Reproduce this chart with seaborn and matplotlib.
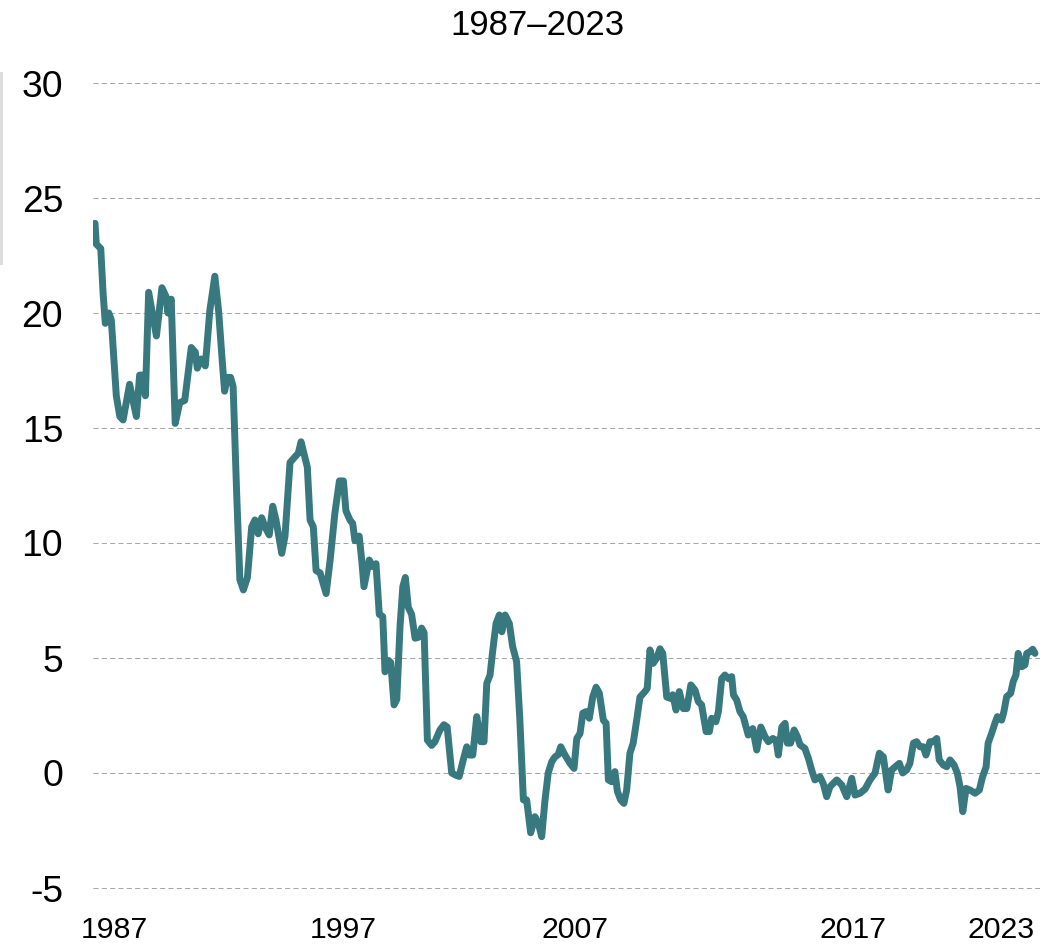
import matplotlib
matplotlib.use("Agg")
import matplotlib.pyplot as plt
from matplotlib.patches import Rectangle
import seaborn as sns
import pandas as pd

# ---- data ----
years = [
    1987.00, 1987.05, 1987.23, 1987.32, 1987.41, 1987.55, 1987.65, 1987.85, 1987.99, 1988.12,
    1988.38, 1988.65, 1988.78, 1988.91, 1989.01, 1989.14, 1989.45, 1989.67, 1989.84, 1989.91,
    1990.04, 1990.20, 1990.38, 1990.58, 1990.84, 1991.00, 1991.08, 1991.24, 1991.40, 1991.58,
    1991.78, 1991.93, 1992.07, 1992.17, 1992.28, 1992.41, 1992.51, 1992.65, 1992.78, 1992.92,
    1993.08, 1993.25, 1993.38, 1993.51, 1993.65, 1993.78, 1993.95, 1994.09, 1994.22, 1994.45,
    1994.58, 1994.78, 1994.98, 1995.11, 1995.22, 1995.31, 1995.47, 1995.58, 1995.71, 1995.82,
    1995.98, 1996.22, 1996.38, 1996.57, 1996.75, 1996.91, 1997.01, 1997.17, 1997.28, 1997.37,
    1997.54, 1997.64, 1997.73, 1997.94, 1998.08, 1998.21, 1998.34, 1998.48, 1998.57, 1998.70,
    1998.80, 1998.93, 1999.04, 1999.17, 1999.28, 1999.38, 1999.50, 1999.63, 1999.77, 1999.90,
    2000.03, 2000.13, 2000.26, 2000.43, 2000.56, 2000.76, 2000.92, 2001.05, 2001.23, 2001.40,
    2001.53, 2001.69, 2001.83, 2001.93, 2002.07, 2002.23, 2002.39, 2002.52, 2002.63, 2002.76,
    2002.87, 2003.00, 2003.13, 2003.23, 2003.36, 2003.53, 2003.66, 2003.82, 2003.95, 2004.09,
    2004.22, 2004.38, 2004.55, 2004.69, 2004.82, 2004.95, 2005.08, 2005.22, 2005.35, 2005.48,
    2005.58, 2005.75, 2005.95, 2006.11, 2006.22, 2006.35, 2006.46, 2006.59, 2006.72, 2006.86,
    2006.99, 2007.12, 2007.28, 2007.39, 2007.48, 2007.61, 2007.74, 2007.84, 2007.97, 2008.10,
    2008.21, 2008.34, 2008.47, 2008.61, 2008.74, 2008.94, 2009.03, 2009.14, 2009.27, 2009.41,
    2009.54, 2009.65, 2009.81, 2009.94, 2010.05, 2010.18, 2010.31, 2010.47, 2010.61, 2010.77,
    2010.94, 2011.07, 2011.20, 2011.38, 2011.51, 2011.60, 2011.77, 2011.87, 2012.00, 2012.13,
    2012.27, 2012.40, 2012.47, 2012.60, 2012.73, 2012.86, 2013.06, 2013.24, 2013.40, 2013.56,
    2013.73, 2013.86, 2014.04, 2014.17, 2014.26, 2014.40, 2014.53, 2014.62, 2014.75, 2014.89,
    2015.02, 2015.13, 2015.32, 2015.46, 2015.59, 2015.72, 2015.92, 2016.05, 2016.19, 2016.32,
    2016.59, 2016.79, 2016.99, 2017.19, 2017.32, 2017.52, 2017.72, 2017.92, 2018.12, 2018.29,
    2018.45, 2018.64, 2018.78, 2018.92, 2019.09, 2019.22, 2019.38, 2019.51, 2019.65, 2019.78,
    2019.91, 2020.04, 2020.15, 2020.31, 2020.44, 2020.58, 2020.68, 2020.84, 2020.98, 2021.11,
    2021.27, 2021.40, 2021.51, 2021.62, 2021.75, 2021.91, 2022.11, 2022.28, 2022.41, 2022.55,
    2022.63, 2022.77, 2022.90, 2023.00, 2023.17, 2023.26, 2023.37, 2023.53, 2023.63, 2023.74,
    2023.83, 2023.97, 2024.10, 2024.17, 2024.30, 2024.41, 2024.50,
]
values = [
    23.9, 23.0, 22.8, 20.9, 19.55, 20.0, 19.7, 16.4, 15.5, 15.35,
    16.9, 15.5, 17.3, 17.3, 16.4, 20.9, 19.0, 21.1, 20.7, 20.0,
    20.6, 15.2, 16.1, 16.2, 18.5, 18.3, 17.6, 18.0, 17.7, 20.1,
    21.6, 20.1, 18.0, 16.6, 17.2, 17.2, 16.8, 12.2, 8.4, 7.96,
    8.5, 10.7, 11.0, 10.4, 11.1, 10.7, 10.35, 11.6, 11.0, 9.55,
    10.3, 13.5, 13.75, 13.9, 14.4, 14.0, 13.3, 11.0, 10.7, 8.8,
    8.7, 7.8, 9.26, 11.3, 12.7, 12.7, 11.4, 11.0, 10.85, 10.1,
    10.3, 9.26, 8.1, 9.26, 8.97, 9.1, 6.9, 6.8, 4.4, 4.9,
    4.8, 2.96, 3.2, 6.4, 8.1, 8.5, 7.2, 6.9, 5.86, 5.9,
    6.3, 6.1, 1.43, 1.2, 1.36, 1.87, 2.1, 2.0, 0.0, -0.1,
    -0.15, 0.57, 1.14, 0.78, 0.78, 2.45, 1.36, 1.36, 3.9, 4.26,
    5.35, 6.5, 6.87, 6.14, 6.87, 6.5, 5.5, 4.84, 2.3, -1.17,
    -1.17, -2.6, -1.9, -2.2, -2.77, -1.2, 0.0, 0.49, 0.7, 0.8,
    1.14, 0.78, 0.42, 0.2, 1.5, 1.72, 2.6, 2.67, 2.38, 3.32,
    3.73, 3.47, 2.3, 2.16, -0.3, -0.38, 0.06, -0.8, -1.17, -1.32,
    -0.74, 0.86, 1.3, 2.3, 3.3, 3.54, 3.68, 5.35, 4.77, 5.0,
    5.4, 5.2, 3.3, 3.25, 3.4, 2.74, 3.54, 2.8, 2.8, 3.83,
    3.6, 3.1, 2.96, 1.8, 1.8, 2.38, 2.23, 2.67, 4.1, 4.26,
    4.1, 4.19, 3.4, 3.17, 2.67, 2.45, 1.65, 1.93, 1.0, 2.0,
    1.58, 1.36, 1.5, 1.43, 0.78, 2.0, 2.16, 1.3, 1.3, 1.87,
    1.58, 1.22, 1.07, 0.64, 0.13, -0.3, -0.16, -0.45, -1.03, -0.6,
    -0.3, -0.52, -1.03, -0.23, -0.96, -0.88, -0.7, -0.3, 0.0, 0.86,
    0.7, -0.74, 0.13, 0.27, 0.42, 0.0, 0.13, 0.42, 1.3, 1.36,
    1.14, 1.14, 0.78, 1.36, 1.36, 1.5, 0.57, 0.35, 0.27, 0.57,
    0.35, 0.0, -0.6, -1.68, -0.67, -0.74, -0.88, -0.74, -0.16, 0.27,
    1.3, 1.72, 2.16, 2.45, 2.3, 2.67, 3.32, 3.47, 3.97, 4.26,
    5.2, 4.62, 4.7, 5.2, 5.27, 5.38, 5.2,
]
y_ticks = [-5, 0, 5, 10, 15, 20, 25, 30]
y_tick_labels = ["-5", "0", "5", "10", "15", "20", "25", "30"]
x_tick_pos = [1987.76, 1996.89, 2006.15, 2017.24, 2023.14]
x_tick_labels = ["1987", "1997", "2007", "2017", "2023"]
title = "1987\u20132023"

# ---- styling ----
sns.set_theme(style="white")
plt.rcParams["font.family"] = ["Liberation Sans", "DejaVu Sans"]

LINE_COLOR = "#38787f"
GRID_COLOR = "#a6a6a6"

W, H = 1060, 950
fig = plt.figure(figsize=(W / 100, H / 100), dpi=100)
ax = fig.add_axes([93 / W, 50.5 / H, (1040 - 93) / W, 828 / H])

df = pd.DataFrame({"year": years, "value": values})
sns.lineplot(data=df, x="year", y="value", ax=ax, color=LINE_COLOR,
             linewidth=5.0, sort=False, estimator=None, zorder=3)
for ln in ax.lines:
    ln.set_solid_joinstyle("round")
    ln.set_solid_capstyle("round")

ax.set_xlim(1986.92, 2024.70)
ax.set_ylim(-5.5, 30.5)
ax.set_yticks(y_ticks)
ax.set_yticklabels(y_tick_labels)
ax.set_xticks(x_tick_pos)
ax.set_xticklabels(x_tick_labels)
ax.set_xlabel("")
ax.set_ylabel("")

for s in ax.spines.values():
    s.set_visible(False)

ax.yaxis.grid(True, color=GRID_COLOR, linewidth=0.75, linestyle=(0, (4.8, 3.2)), zorder=0)
ax.xaxis.grid(False)
ax.set_axisbelow(True)

ax.tick_params(axis="y", length=0, pad=21.5, labelsize=26.8, labelcolor="black")
ax.tick_params(axis="x", length=0, pad=12, labelsize=21.8, labelcolor="black")

fig.text(537.5 / W, 1 - 35 / H, title, ha="center", va="baseline",
         fontsize=25, color="black")

fig.add_artist(Rectangle((0, 1 - 265 / H), 3 / W, 193 / H,
                         transform=fig.transFigure, color="#dddddd", lw=0))

fig.savefig("out.png", dpi=100, facecolor="white")
